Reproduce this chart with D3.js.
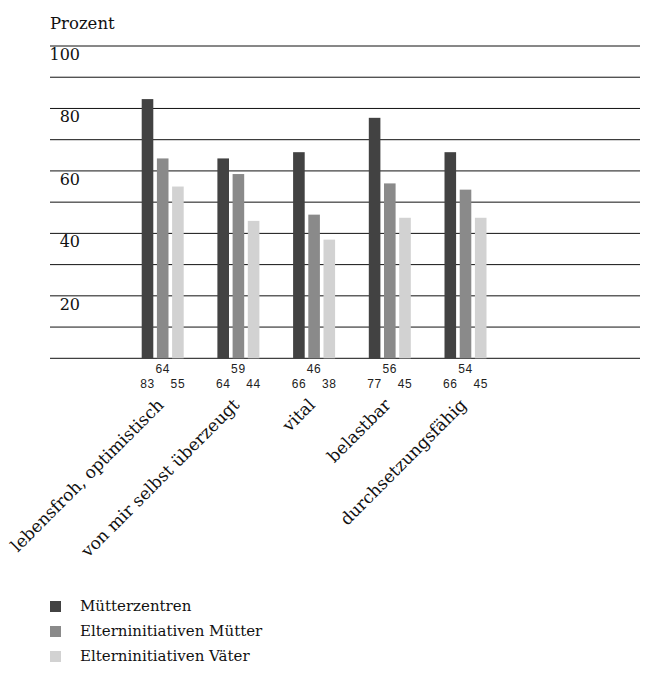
<!DOCTYPE html>
<html>
<head>
<meta charset="utf-8">
<script src="https://cdn.jsdelivr.net/npm/d3@7"></script>
<style>
  html, body { margin: 0; padding: 0; background: #fff; }
  svg { display: block; }
</style>
</head>
<body>
<svg id="chart" width="653" height="687"></svg>
<script>
// Eigenschaften, Anteile in Prozent je Gruppe
const categories = [
  "lebensfroh, optimistisch",
  "von mir selbst überzeugt",
  "vital",
  "belastbar",
  "durchsetzungsfähig"
];
const seriesNames = ["Mütterzentren", "Elterninitiativen Mütter", "Elterninitiativen Väter"];
const muetterzentren = [83, 64, 66, 77, 66];
const elternMuetter = [64, 59, 46, 56, 54];
const elternVaeter = [55, 44, 38, 45, 45];
const yTicks = [20, 40, 60, 80, 100];
const gridValues = [10, 20, 30, 40, 50, 60, 70, 80, 90, 100];

const seriesValues = [muetterzentren, elternMuetter, elternVaeter];
const colors = ["#424242", "#8a8a8a", "#d2d2d2"];
const serif = "'DejaVu Serif', serif";
const sans = "'Liberation Sans', Arial, sans-serif";

const svg = d3.select("#chart");

const y = d3.scaleLinear().domain([0, 100]).range([358.3, 46]);
const x0 = d3.scaleBand().domain(categories).range([141.7, 141.7 + 5 * 75.7]).padding(0);
const x1 = d3.scaleBand().domain(seriesNames).range([0, 42]).paddingInner(0.237).paddingOuter(0);

// Titel der y-Achse
svg.append("text")
  .attr("x", 50).attr("y", 29)
  .attr("font-family", serif).attr("font-size", 16.5)
  .attr("fill", "#111")
  .text("Prozent");

// Gitternetzlinien inkl. Grundlinie
svg.append("g").selectAll("line")
  .data([0].concat(gridValues))
  .join("line")
  .attr("x1", 50).attr("x2", 640)
  .attr("y1", d => y(d)).attr("y2", d => y(d))
  .attr("stroke", "#111").attr("stroke-width", 1);

// Achsenbeschriftung unterhalb der Linien
svg.append("g").selectAll("text")
  .data(yTicks)
  .join("text")
  .attr("x", 80).attr("y", d => y(d) + 14)
  .attr("text-anchor", "end")
  .attr("font-family", serif).attr("font-size", 16)
  .attr("fill", "#111")
  .text(d => d);

// Balken
const groups = svg.append("g").selectAll("g")
  .data(categories)
  .join("g")
  .attr("transform", d => `translate(${x0(d)},0)`);

groups.selectAll("rect")
  .data((c, i) => seriesNames.map((s, k) => ({ s, k, v: seriesValues[k][i] })))
  .join("rect")
  .attr("x", d => x1(d.s))
  .attr("width", x1.bandwidth())
  .attr("y", d => y(d.v))
  .attr("height", d => y(0) - y(d.v))
  .attr("fill", d => colors[d.k]);

// Werte unter den Balken: mittlere Reihe oben, äußere darunter
groups.selectAll("text.val")
  .data((c, i) => seriesNames.map((s, k) => ({ s, k, v: seriesValues[k][i] })))
  .join("text")
  .attr("class", "val")
  .attr("x", d => x1(d.s) + x1.bandwidth() / 2)
  .attr("y", d => d.k === 1 ? 373 : 388)
  .attr("text-anchor", "middle")
  .attr("font-family", sans).attr("font-size", 12)
  .attr("letter-spacing", 0.6)
  .attr("fill", "#222")
  .text(d => d.v);

// Kategorienamen, um 45° gedreht
svg.append("g").selectAll("text")
  .data(categories)
  .join("text")
  .attr("transform", d => `translate(${x0(d) + 21 + 2},406) rotate(-45)`)
  .attr("text-anchor", "end")
  .attr("font-family", serif).attr("font-size", 17)
  .attr("fill", "#111")
  .text(d => d);

// Legende
const legend = svg.append("g").selectAll("g")
  .data(seriesNames)
  .join("g")
  .attr("transform", (d, i) => `translate(50,${601 + i * 25})`);

legend.append("rect")
  .attr("width", 11).attr("height", 11)
  .attr("fill", (d, i) => colors[i]);

legend.append("text")
  .attr("x", 30).attr("y", 10)
  .attr("font-family", serif).attr("font-size", 15)
  .attr("fill", "#111")
  .text(d => d);
</script>
</body>
</html>
